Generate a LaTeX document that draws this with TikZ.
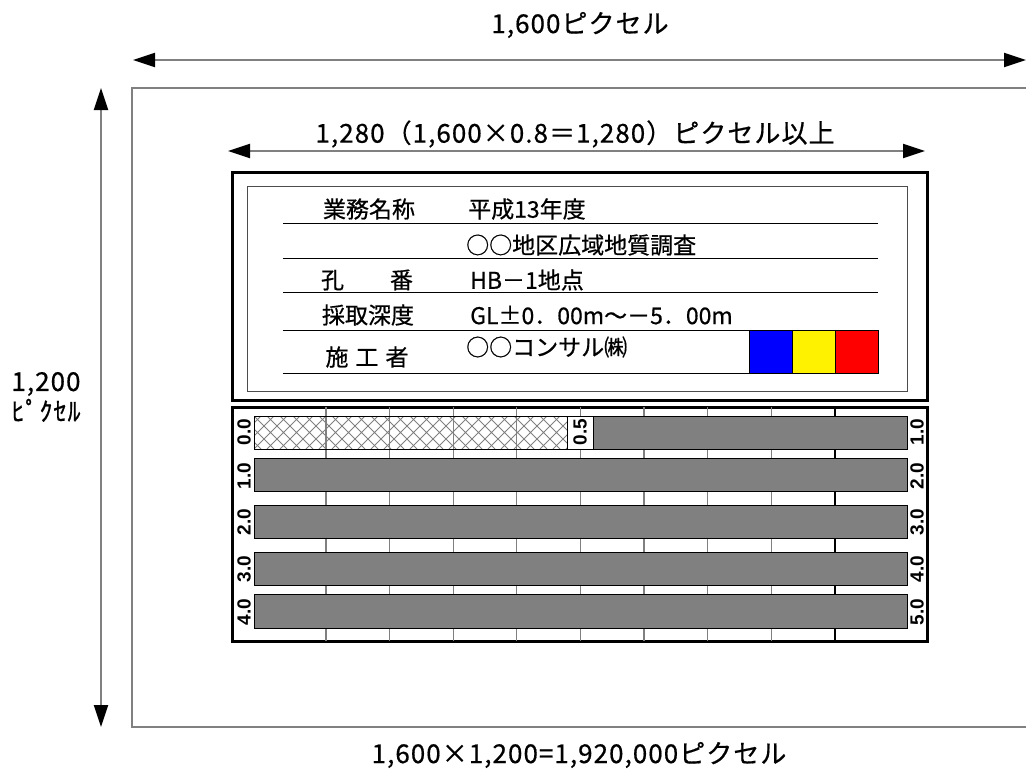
\documentclass[tikz,border=0pt]{standalone}
\usepackage{fontspec}
\setmainfont{Noto Sans CJK JP}[FakeBold=0.6]
\newfontfamily\widefont{Noto Sans CJK JP}[LetterSpace=4,FakeBold=0.6]
\newfontfamily\depthfont{Liberation Sans}
\usetikzlibrary{arrows.meta,positioning}

\begin{document}
\begin{tikzpicture}[
  x=1pt, y=-1pt, >={Triangle[length=22pt,width=14pt,color=black]},
  every node/.style={inner sep=0pt},
  bigtxt/.style={font=\widefont\fontsize{26}{30}\selectfont},
  tabtxt/.style={font=\fontsize{23}{26}\selectfont},
  dimline/.style={<->, draw=gray, line width=2pt},
  heavybox/.style={draw, line width=3pt},
  rule/.style={draw, line width=1pt},
  corebar/.style={draw, line width=1pt, fill=gray},
  depth/.style={font=\depthfont\bfseries\fontsize{19}{19}\selectfont, rotate=90},
]
  \useasboundingbox (0,0) rectangle (1026,774);

  % image frame and dimensions
  \draw[gray, line width=1.5pt] (1026,88) -- (132,88) -- (132,727) -- (1026,727);
  \coordinate (wl) at (133,60);
  \coordinate (wr) at (1026,60);
  \coordinate (ht) at (101,88);
  \coordinate (hb) at (101,727);
  \coordinate (ml) at (228,151);
  \coordinate (mr) at (925,151);
  \draw[dimline] (wl) -- (wr);
  \draw[dimline] (ht) -- (hb);
  \draw[dimline] (ml) -- (mr);
  \node[bigtxt] (wtxt) at (580,25) {1,600ピクセル};
  \node[bigtxt, align=center] (htxt) at (46,397) {1,200\\ﾋﾟｸｾﾙ};
  \node[bigtxt] (mtxt) at (575,134) {1,280（1,600×0.8＝1,280）ピクセル以上};
  \node[bigtxt] (area) at (579,755) {1,600×1,200=1,920,000ピクセル};

  % label board
  \draw[heavybox] (232,172) rectangle (927,400);
  \draw[line width=1pt, black!70] (247,186) rectangle (907,391);
  \foreach \y in {223,258,292,330,373}
    \draw[rule] (283,\y) -- (878,\y);
  \node[tabtxt] (k1) at (369,209) {業務名称};
  \node[tabtxt, anchor=west] (v1) at (468,209) {平成13年度};
  \node[tabtxt, anchor=west] (v2) at (466,245) {○○地区広域地質調査};
  \node[tabtxt] (k3) at (367,280) {孔　　番};
  \node[tabtxt, anchor=west] (v3) at (470,280) {HB－1地点};
  \node[tabtxt] (k4) at (368,315) {採取深度};
  \node[tabtxt, anchor=west] (v4) at (470,315) {GL±0．00m～－5．00m};
  \node[tabtxt] (k5) at (367,357) {施\hspace{7pt}工\hspace{7pt}者};
  \node[tabtxt, anchor=west] (v5) at (466,347) {○○コンサル㈱};
  \draw[fill=blue] (749,330) rectangle (792,373);
  \draw[fill=yellow] (792,330) rectangle (835,373);
  \draw[fill=red] (835,330) rectangle (878,373);

  % core box
  \draw[heavybox] (232,407) rectangle (927,641);
  \foreach \i in {0,...,7}
    \draw[gray, line width=1.2pt] ({326+63.6*\i},407) -- ({326+63.6*\i},641);
  \draw[line width=1.2pt] (835,407) -- (835,641);
  \begin{scope}
    \clip (254,416) rectangle (567,449);
    \foreach \k in {-3,...,24}
      \draw[gray, line width=0.8pt] ({254+13*\k},416) -- ++(33,33)
                                    ({254+13*\k},449) -- ++(33,-33);
  \end{scope}
  \draw[line width=1pt] (254,416) rectangle (567,449);
  \draw[line width=1pt, fill=white] (567,416) rectangle (593,449);
  \draw[corebar] (593,416) rectangle (907,449);
  \foreach \t/\b in {458/491,505/538,552/585,594/628}
    \draw[corebar] (254,\t) rectangle (907,\b);
  \foreach \v/\y [count=\n] in {0.0/432,1.0/476,2.0/522,3.0/569,4.0/612}
    \node[depth] (dl\n) at (244,\y) {\v};
  \foreach \v/\y [count=\n] in {1.0/432,2.0/476,3.0/522,4.0/569,5.0/612}
    \node[depth] (dr\n) at (917,\y) {\v};
  \node[depth] (half) at (580,432) {0.5};
\end{tikzpicture}
\end{document}
